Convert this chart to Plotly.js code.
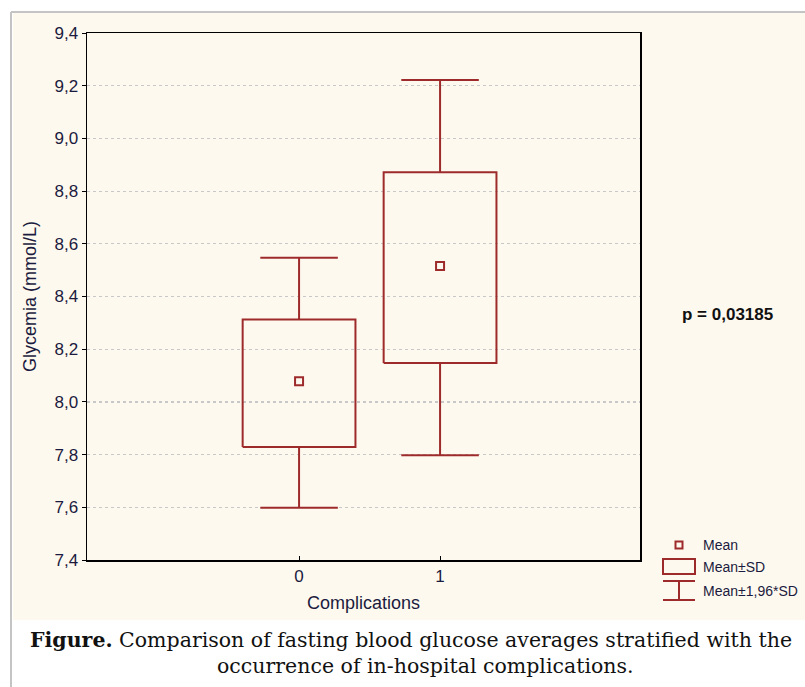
<!DOCTYPE html>
<html>
<head>
<meta charset="utf-8">
<script src="https://cdn.plot.ly/plotly-3.0.1.min.js"></script>
<style>html,body{margin:0;padding:0;background:#fff;}#chart{width:805px;height:687px;}</style>
</head>
<body>
<div id="chart"></div>
<script>
// ---- data ----
const categories = ['0', '1'];
const xpos = [0, 1];
const means = [8.078, 8.516];
const sdLow = [7.829, 8.148];
const sdHigh = [8.313, 8.872];
const ciLow = [7.598, 7.798];
const ciHigh = [8.547, 9.222];
const yTickVals = [7.4, 7.6, 7.8, 8.0, 8.2, 8.4, 8.6, 8.8, 9.0, 9.2, 9.4];
const yTickText = ['7,4', '7,6', '7,8', '8,0', '8,2', '8,4', '8,6', '8,8', '9,0', '9,2', '9,4'];
const pText = 'p = 0,03185';
const legendLabels = ['Mean', 'Mean±SD', 'Mean±1,96*SD'];

// ---- style ----
const RED = '#9e2b2b';
const NAVY = '#1b1b40';
const BOX_HW = 0.40;
const CAP_HW = 0.275;
const LW = 2;

const traces = [];
xpos.forEach((c, i) => {
  traces.push({
    type: 'scatter', mode: 'lines', hoverinfo: 'skip', showlegend: false,
    x: [c - BOX_HW, c + BOX_HW, c + BOX_HW, c - BOX_HW, c - BOX_HW],
    y: [sdLow[i], sdLow[i], sdHigh[i], sdHigh[i], sdLow[i]],
    line: {color: RED, width: LW}
  });
  traces.push({
    type: 'scatter', mode: 'lines', hoverinfo: 'skip', showlegend: false,
    x: [c, c, null, c - CAP_HW, c + CAP_HW, null, c, c, null, c - CAP_HW, c + CAP_HW],
    y: [sdHigh[i], ciHigh[i], null, ciHigh[i], ciHigh[i], null, sdLow[i], ciLow[i], null, ciLow[i], ciLow[i]],
    line: {color: RED, width: LW}
  });
});
traces.push({
  type: 'scatter', mode: 'markers', showlegend: false,
  x: xpos, y: means,
  marker: {symbol: 'square-open', size: 8, color: RED, line: {width: 2, color: RED}}
});

const L = 87, R = 640, T = 33, B = 560;
const px = v => (v - L) / (R - L);
const py = v => (B - v) / (B - T);

const shapes = [
  {type: 'rect', xref: 'paper', yref: 'paper', layer: 'below',
   x0: px(13), x1: px(806), y0: py(13), y1: py(620),
   fillcolor: '#fef9ee', line: {width: 0}},
  {type: 'line', xref: 'paper', yref: 'paper', layer: 'below',
   x0: px(11), x1: px(806), y0: py(12), y1: py(12), line: {color: '#c4c4c4', width: 2}},
  {type: 'line', xref: 'paper', yref: 'paper', layer: 'below',
   x0: px(11), x1: px(11), y0: py(12), y1: py(688), line: {color: '#c4c4c4', width: 2}},
  {type: 'rect', xref: 'paper', yref: 'paper',
   x0: px(675.5), x1: px(682.5), y0: py(541.5), y1: py(548.5), line: {color: RED, width: 2}},
  {type: 'rect', xref: 'paper', yref: 'paper',
   x0: px(663), x1: px(695), y0: py(559), y1: py(574), line: {color: RED, width: 2}},
  {type: 'line', xref: 'paper', yref: 'paper',
   x0: px(663), x1: px(695), y0: py(581), y1: py(581), line: {color: RED, width: 2}},
  {type: 'line', xref: 'paper', yref: 'paper',
   x0: px(679), x1: px(679), y0: py(581), y1: py(600), line: {color: RED, width: 2}},
  {type: 'line', xref: 'paper', yref: 'paper',
   x0: px(663), x1: px(695), y0: py(600), y1: py(600), line: {color: RED, width: 2}}
];

const legFont = {family: 'Liberation Sans Narrow, Liberation Sans, Arial, sans-serif', size: 14, color: NAVY};
const capFont = {family: 'DejaVu Serif, serif', size: 20.5, color: '#111'};
const annotations = [
  {xref: 'paper', yref: 'paper', x: px(701), y: py(545), xanchor: 'left', yanchor: 'middle',
   text: legendLabels[0], showarrow: false, font: legFont},
  {xref: 'paper', yref: 'paper', x: px(701), y: py(567), xanchor: 'left', yanchor: 'middle',
   text: legendLabels[1], showarrow: false, font: legFont},
  {xref: 'paper', yref: 'paper', x: px(701), y: py(591), xanchor: 'left', yanchor: 'middle',
   text: legendLabels[2], showarrow: false, font: legFont},
  {xref: 'paper', yref: 'paper', x: px(727), y: py(314), xanchor: 'center', yanchor: 'middle',
   text: '<b>' + pText + '</b>', showarrow: false,
   font: {family: 'Liberation Sans, Arial, sans-serif', size: 17, color: '#111'}},
  {xref: 'paper', yref: 'paper', x: px(411), y: py(640), xanchor: 'center', yanchor: 'middle',
   text: '<b>Figure.</b> Comparison of fasting blood glucose averages stratified with the',
   showarrow: false, font: capFont},
  {xref: 'paper', yref: 'paper', x: px(425), y: py(666), xanchor: 'center', yanchor: 'middle',
   text: 'occurrence of in-hospital complications.',
   showarrow: false, font: capFont}
];

const layout = {
  width: 805, height: 687,
  margin: {l: L, r: 805 - R, t: T, b: 687 - B, pad: 0},
  paper_bgcolor: 'rgba(0,0,0,0)',
  plot_bgcolor: '#ffffff',
  showlegend: false,
  font: {family: 'Liberation Sans, Arial, sans-serif', color: NAVY},
  xaxis: {
    range: [-1.504, 2.418],
    tickvals: xpos, ticktext: categories,
    ticks: 'inside', ticklen: 4, tickcolor: '#000',
    showline: true, linecolor: '#000', linewidth: 1.5, mirror: true,
    showgrid: false, zeroline: false,
    tickfont: {size: 17, color: NAVY},
    title: {text: 'Complications', font: {size: 18, color: NAVY}, standoff: 11}
  },
  yaxis: {
    range: [7.4, 9.4],
    tickvals: yTickVals, ticktext: yTickText,
    ticks: 'outside', ticklen: 4, tickcolor: '#000',
    showline: true, linecolor: '#000', linewidth: 1.5, mirror: true,
    showgrid: true, gridcolor: '#c8c8c8', griddash: 'dot', gridwidth: 1.2,
    zeroline: false,
    tickfont: {size: 17, color: NAVY},
    title: {text: 'Glycemia (mmol/L)', font: {size: 18, color: NAVY}, standoff: 13}
  },
  shapes: shapes,
  annotations: annotations
};

Plotly.newPlot('chart', traces, layout, {displayModeBar: false, staticPlot: true});
</script>
</body>
</html>
